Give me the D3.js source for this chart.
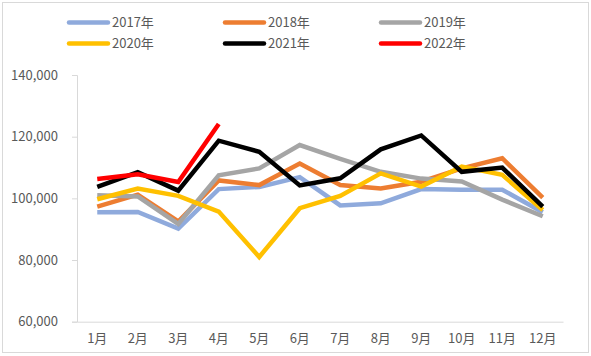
<!DOCTYPE html>
<html><head><meta charset="utf-8">
<script src="https://cdn.jsdelivr.net/npm/d3@7"></script>
<style>body{margin:0;background:#fff}svg{display:block}text{font-family:"Noto Sans CJK SC","DejaVu Sans",sans-serif}</style>
</head><body>
<svg id="c" width="591" height="356"></svg>
<script>
const months = ["1月","2月","3月","4月","5月","6月","7月","8月","9月","10月","11月","12月"];
const seriesNames = ["2017年","2018年","2019年","2020年","2021年","2022年"];
const colors = ["#8faadc","#ed7d31","#a5a5a5","#ffc000","#000000","#ff0000"];
const v2017 = [95500,95600,90200,103000,103700,106900,97700,98400,103000,102800,102800,95500];
const v2018 = [97300,101200,92500,105800,104300,111300,104300,103200,105400,109700,113000,100200];
const v2019 = [101000,100600,91700,107500,109700,117300,112800,108600,106400,105500,99600,94200];
const v2020 = [99700,103200,100800,95700,81000,96800,100800,108100,103800,110300,107600,96200];
const v2021 = [103700,108500,102500,118700,115100,104200,106500,115900,120400,108600,110000,97300];
const v2022 = [106300,107800,105300,124100];
const yTicks = [60000,80000,100000,120000,140000];
const allSeries = [v2017,v2018,v2019,v2020,v2021,v2022];

const svg = d3.select("#c");
svg.append("rect").attr("x",2.5).attr("y",2.5).attr("width",586).attr("height",350)
  .attr("fill","#fff").attr("stroke","#d9d9d9");

const x = d3.scaleBand().domain(months).range([77,563]);
const y = d3.scaleLinear().domain([60000,140000]).range([321.7,75]);

// y axis
const ya = svg.append("g").attr("transform","translate(77,0)")
  .call(d3.axisLeft(y).tickValues(yTicks).tickSize(5).tickPadding(14).tickFormat(d3.format(",")));
ya.select(".domain").attr("stroke","#d9d9d9");
ya.selectAll(".tick line").attr("stroke","#d9d9d9");
ya.selectAll(".tick text").attr("fill","#595959").style("font-size","13px");

// x axis
const xa = svg.append("g").attr("transform","translate(0,321.7)")
  .call(d3.axisBottom(x).tickSize(0).tickPadding(12));
xa.select(".domain").attr("stroke","#d9d9d9");
xa.selectAll(".tick text").attr("fill","#595959").style("font-size","13px");

const line = d3.line().x((d,i)=>x(months[i])+x.bandwidth()/2).y(d=>y(d));
allSeries.forEach((s,k)=>{
  svg.append("path").datum(s).attr("d",line).attr("fill","none")
    .attr("stroke",colors[k]).attr("stroke-width",4.5).attr("stroke-linejoin","miter");
});

// legend
const legX = [67,223,379], legY = [22.5,43.5];
seriesNames.forEach((n,k)=>{
  const lx = legX[k%3], ly = legY[Math.floor(k/3)];
  svg.append("line").attr("x1",lx+2).attr("x2",lx+41).attr("y1",ly).attr("y2",ly)
    .attr("stroke",colors[k]).attr("stroke-width",4.5).attr("stroke-linecap","round");
  svg.append("text").attr("x",lx+45).attr("y",ly).attr("dy","0.35em")
    .attr("fill","#595959").style("font-size","13px").text(n);
});
</script>
</body></html>
